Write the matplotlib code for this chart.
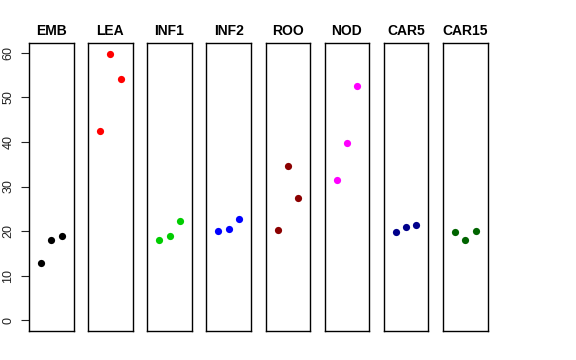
import matplotlib
matplotlib.use("Agg")
from matplotlib import pyplot as plt

plt.rcParams["font.family"] = ["Liberation Sans", "DejaVu Sans"]

# Data
tissues = ["EMB", "LEA", "INF1", "INF2", "ROO", "NOD", "CAR5", "CAR15"]
replicates = [1, 2, 3]
emb = [12.9, 18.1, 18.9]
lea = [42.5, 59.8, 54.2]
inf1 = [18.0, 18.8, 22.3]
inf2 = [20.1, 20.4, 22.8]
roo = [20.3, 34.7, 27.4]
nod = [31.4, 39.8, 52.6]
car5 = [19.8, 20.9, 21.4]
car15 = [19.9, 18.0, 20.1]
series = [emb, lea, inf1, inf2, roo, nod, car5, car15]
colors = ["black", "red", "#00CD00", "blue", "#8B0000", "magenta", "#00008B", "#006400"]
y_ticks = [0, 10, 20, 30, 40, 50, 60]


def main():
	W, H = 576, 360
	fig = plt.figure(figsize=(W / 100, H / 100), dpi=100)

	ymax = max(max(s) for s in series)
	ypad = 0.04 * ymax
	left0, step, width = 29, 59.15, 44.5
	top, bottom = 43, 331

	for i, (name, values, color) in enumerate(zip(tissues, series, colors)):
		x0 = left0 + i * step
		ax = fig.add_axes([x0 / W, (H - bottom) / H, width / W, (bottom - top) / H])
		ax.scatter(replicates, values, s=27, color=color, zorder=3, linewidths=0)
		ax.set_xlim(0 - 0.16, 4 + 0.16)
		ax.set_ylim(0 - ypad, ymax + ypad)
		ax.set_xticks([])
		for spine in ax.spines.values():
			spine.set_linewidth(1.0)
			spine.set_color("black")
		ax.set_title(name, fontsize=10, fontweight="bold", pad=6)
		if i == 0:
			ax.set_yticks(y_ticks)
			ax.set_yticklabels([str(t) for t in y_ticks], rotation=90, va="center", fontsize=9)
			ax.tick_params(axis="y", length=5.5, width=0.8, pad=5, colors="#222222")
		else:
			ax.set_yticks([])

	fig.savefig("out.png", dpi=100)
	plt.close(fig)


if __name__ == "__main__":
	main()
